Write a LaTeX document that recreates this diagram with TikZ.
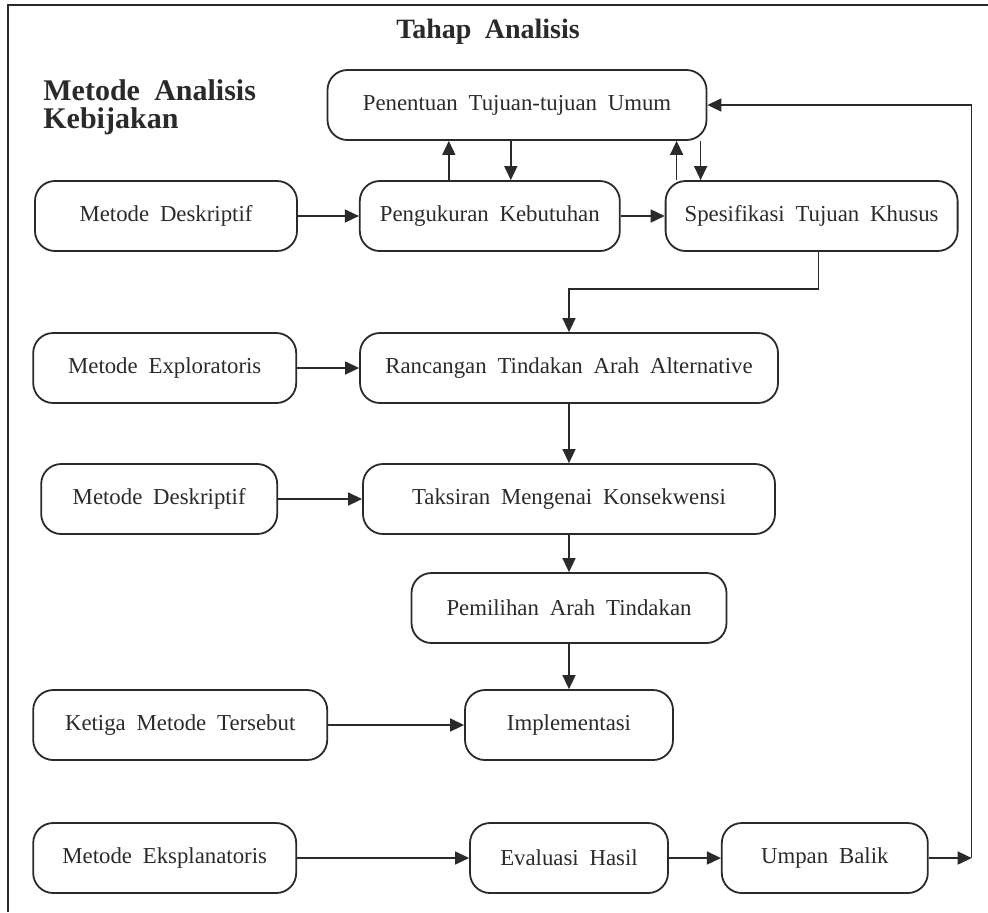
\documentclass[tikz,border=0pt]{standalone}
\usepackage{fontspec}
\setmainfont[WordSpace=1.9]{Liberation Serif}
\usetikzlibrary{arrows.meta, positioning}
\definecolor{tinta}{HTML}{2A2A2A}

\begin{document}
\begin{tikzpicture}[
    x=0.5pt, y=-0.5pt,
    box/.style={draw=tinta, rounded corners=10pt, line width=0.9pt, minimum height=35pt,
                align=center, text=tinta, font=\fontsize{11.4}{13}\selectfont, inner sep=3pt},
    arr/.style={-{Triangle[length=7pt, width=6.5pt]}, draw=tinta, line width=0.75pt},
    judul/.style={font=\fontsize{14}{14}\selectfont\bfseries, text=tinta, inner sep=0pt}
  ]
  \useasboundingbox (0,0) rectangle (988,912);
  \draw[tinta, line width=0.8pt] (8,912) -- (8,5) -- (988,5);

  \node[judul, anchor=base] (tahap) at (488,38) {Tahap Analisis};
  \node[judul, font=\fontsize{15}{14}\selectfont\bfseries, anchor=north west, align=left]
    (metodeak) at (43,79) {Metode Analisis\\Kebijakan};

  \node[box, minimum width=189.5pt] (pen) at (517,105) {Penentuan Tujuan-tujuan Umum};
  \node[box, minimum width=131pt] (desk1) at (166,216) {Metode Deskriptif};
  \node[box, minimum width=130pt, right=30.5pt of desk1] (ukur) {Pengukuran Kebutuhan};
  \node[box, minimum width=146pt, right=22pt of ukur] (spek) {Spesifikasi Tujuan Khusus};

  \node[box, minimum width=209pt] (ranc) at (569,368) {Rancangan Tindakan Arah Alternative};
  \node[box, minimum width=131.5pt, left=31pt of ranc] (explor) {Metode Exploratoris};
  \node[box, minimum width=206pt] (taks) at (569,499) {Taksiran Mengenai Konsekwensi};
  \node[box, minimum width=118pt, left=42pt of taks] (desk2) {Metode Deskriptif};
  \node[box, minimum width=157.5pt] (pilih) at (569,608) {Pemilihan Arah Tindakan};
  \node[box, minimum width=104pt] (impl) at (569,725) {Implementasi};
  \node[box, minimum width=147pt, left=68pt of impl] (ketiga) {Ketiga Metode Tersebut};
  \node[box, minimum width=99pt] (eval) at (569,858) {Evaluasi Hasil};
  \node[box, minimum width=131.5pt, left=86pt of eval] (eksp) {Metode Eksplanatoris};
  \node[box, minimum width=103pt, right=26pt of eval] (umpan) {Umpan Balik};
  \coordinate[right=21.5pt of umpan] (balik);

  % baris atas
  \draw[arr] (desk1) -- (ukur);
  \draw[arr] (ukur) -- (spek);
  \draw[arr] ([xshift=-20.5pt]ukur.north) -- ([xshift=-20.5pt]ukur.north |- pen.south);
  \draw[arr] ([xshift=10.5pt]ukur.north |- pen.south) -- ([xshift=10.5pt]ukur.north);
  \draw[arr] ([xshift=-67.5pt]spek.north) -- ([xshift=-67.5pt]spek.north |- pen.south);
  \draw[arr] ([xshift=-55.5pt]spek.north |- pen.south) -- ([xshift=-55.5pt]spek.north);
  \draw[arr] ([xshift=3.5pt]spek.south) -- ++(0,-18.5pt) -| (ranc.north);

  % alur utama
  \draw[arr] (explor) -- (ranc);
  \draw[arr] (ranc) -- (taks);
  \draw[arr] (desk2) -- (taks);
  \draw[arr] (taks) -- (pilih);
  \draw[arr] (pilih) -- (impl);
  \draw[arr] (ketiga) -- (impl);
  \draw[arr] (eksp) -- (eval);
  \draw[arr] (eval) -- (umpan);

  % umpan balik
  \draw[arr] (umpan) -- (balik);
  \draw[arr] (balik) |- (pen.east);
\end{tikzpicture}
\end{document}
